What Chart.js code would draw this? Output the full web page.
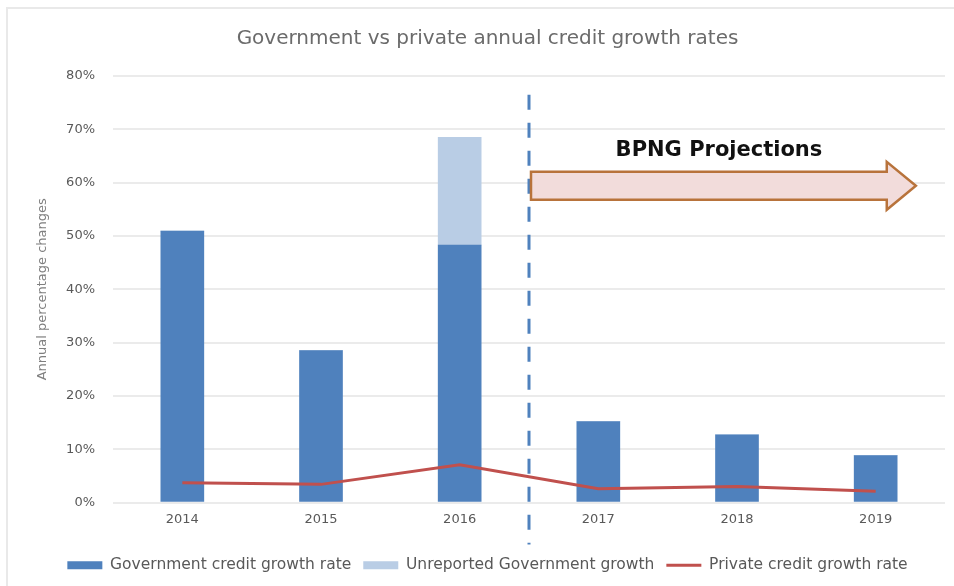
<!DOCTYPE html>
<html>
<head>
<meta charset="utf-8">
<script src="https://cdn.jsdelivr.net/npm/chart.js@4.4.1/dist/chart.umd.min.js"></script>
<style>
  html, body { margin: 0; padding: 0; background: #fff; overflow: hidden; }
  #wrap { width: 954px; height: 586px; position: relative; }
  canvas { display: block; }
</style>
</head>
<body>
<div id="wrap"><canvas id="creditChart"></canvas></div>
<script>
let years = ['2014', '2015', '2016', '2017', '2018', '2019'];
let govGrowth = [50.9, 28.5, 48.3, 15.2, 12.7, 8.8];        // Government credit growth rate (%)
let unreportedGrowth = [0, 0, 20.2, 0, 0, 0];                // Unreported Government growth (%)
let privateGrowth = [3.7, 3.4, 7.1, 2.6, 3.0, 2.1];         // Private credit growth rate (%)
let yTicks = [0, 10, 20, 30, 40, 50, 60, 70, 80];

let projectionLabel = 'BPNG Projections';

const FONT = "'DejaVu Sans', sans-serif";
const GREY = '#595959';

// frame, projection divider and arrow
const decorations = {
  id: 'decorations',
  beforeDraw(chart) {
    const ctx = chart.ctx;
    ctx.save();
    ctx.fillStyle = '#fff';
    ctx.fillRect(0, 0, chart.width, chart.height);
    ctx.strokeStyle = '#e9e9e9';
    ctx.lineWidth = 2;
    ctx.beginPath();
    ctx.moveTo(7, chart.height);
    ctx.lineTo(7, 8);
    ctx.lineTo(chart.width, 8);
    ctx.stroke();
    ctx.restore();
  },
  afterDatasetsDraw(chart) {
    const ctx = chart.ctx;
    const x = chart.scales.x, y = chart.scales.y;
    const divX = (x.getPixelForValue(2) + x.getPixelForValue(3)) / 2;

    ctx.save();
    // dashed divider between reported and projected years
    ctx.strokeStyle = '#4f81bd';
    ctx.lineWidth = 3;
    ctx.setLineDash([15, 13]);
    ctx.beginPath();
    ctx.moveTo(divX, y.getPixelForValue(76.5));
    ctx.lineTo(divX, chart.chartArea.bottom + 42);
    ctx.stroke();
    ctx.setLineDash([]);

    // arrow
    const cy = y.getPixelForValue(59.4);
    const bodyH = 14, headH = 24;
    const x0 = divX + 2;
    const xHead = x.getPixelForValue(5.08);
    const xTip = x.getPixelForValue(5.29);
    ctx.beginPath();
    ctx.moveTo(x0, cy - bodyH);
    ctx.lineTo(xHead, cy - bodyH);
    ctx.lineTo(xHead, cy - headH);
    ctx.lineTo(xTip, cy);
    ctx.lineTo(xHead, cy + headH);
    ctx.lineTo(xHead, cy + bodyH);
    ctx.lineTo(x0, cy + bodyH);
    ctx.closePath();
    ctx.fillStyle = '#f2dcdb';
    ctx.fill();
    ctx.strokeStyle = '#b8733b';
    ctx.lineWidth = 2.5;
    ctx.lineJoin = 'miter';
    ctx.stroke();

    ctx.fillStyle = '#111';
    ctx.font = 'bold 21px ' + FONT;
    ctx.textAlign = 'center';
    ctx.textBaseline = 'middle';
    ctx.fillText(projectionLabel, x.getPixelForValue(3.87), y.getPixelForValue(66.1));
    ctx.restore();
  }
};

let ctx = document.getElementById('creditChart').getContext('2d');

let creditChart = new Chart(ctx, {
  type: 'bar',
  data: {
    labels: years,
    datasets: [
      {
        label: 'Government credit growth rate',
        data: govGrowth,
        backgroundColor: '#4f81bd',
        borderWidth: 0,
        stack: 'gov',
        barThickness: 43,
        pointStyle: 'rect',
        order: 2
      },
      {
        label: 'Unreported Government growth',
        data: unreportedGrowth,
        backgroundColor: '#b9cde5',
        borderWidth: 0,
        stack: 'gov',
        barThickness: 43,
        pointStyle: 'rect',
        order: 3
      },
      {
        type: 'line',
        label: 'Private credit growth rate',
        data: privateGrowth,
        borderColor: '#c0504d',
        backgroundColor: '#c0504d',
        borderWidth: 3,
        pointRadius: 0,
        pointHoverRadius: 0,
        pointBorderWidth: 3,
        pointStyle: 'line',
        stack: 'private',
        fill: false,
        order: 1
      }
    ]
  },
  options: {
    responsive: true,
    maintainAspectRatio: false,
    animation: false,
    layout: { padding: { left: 30, right: 9, top: 0, bottom: 3 } },
    plugins: {
      title: {
        display: true,
        text: 'Government vs private annual credit growth rates',
        color: '#6b6b6b',
        font: { family: FONT, size: 20, weight: 'normal' },
        padding: { top: 27, bottom: 25 }
      },
      legend: {
        position: 'bottom',
        labels: {
          usePointStyle: true,
          pointStyleWidth: 35,
          boxHeight: 8,
          color: GREY,
          font: { family: FONT, size: 15.5 },
          padding: 12,
          sort: (a, b) => a.datasetIndex - b.datasetIndex
        }
      },
      tooltip: { enabled: false }
    },
    scales: {
      x: {
        stacked: true,
        grid: { display: false, drawTicks: false },
        border: { display: false },
        ticks: { color: GREY, font: { family: FONT, size: 13 }, padding: 9 },
        afterFit(scale) { scale.height = 43; }
      },
      y: {
        stacked: true,
        min: 0,
        max: 80,
        afterBuildTicks(scale) { scale.ticks = yTicks.map(v => ({ value: v })); },
        grid: { color: '#ebebeb', lineWidth: 2, drawTicks: false },
        border: { display: false },
        ticks: {
          color: GREY,
          font: { family: FONT, size: 13 },
          padding: 18,
          callback: v => v + '%'
        },
        title: {
          display: true,
          text: 'Annual percentage changes',
          color: '#7f7f7f',
          font: { family: FONT, size: 13 },
          padding: { top: 5, bottom: 0 }
        },
        afterFit(scale) { scale.width = 83; }
      }
    }
  },
  plugins: [decorations]
});
</script>
</body>
</html>
